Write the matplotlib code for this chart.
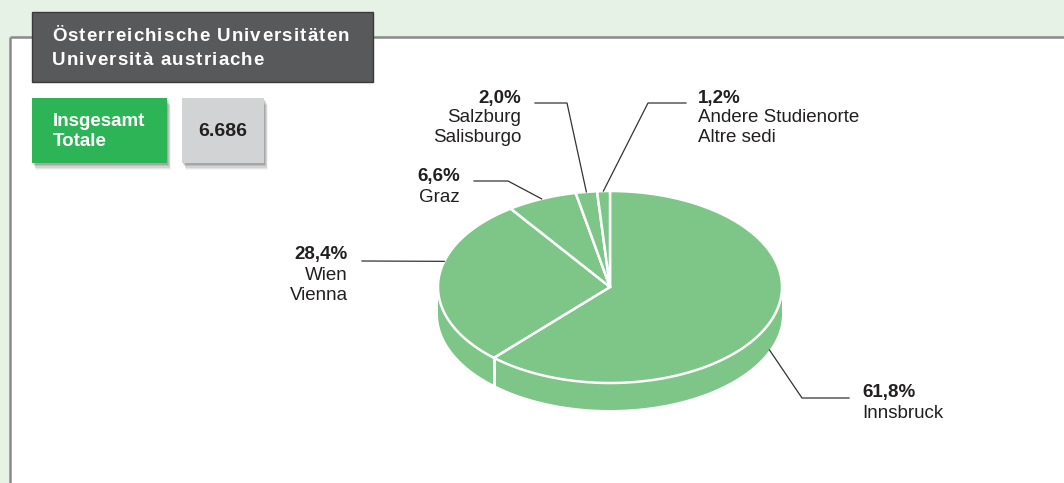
import numpy as np
import matplotlib
matplotlib.use("Agg")
import matplotlib.pyplot as plt
from matplotlib.patches import Rectangle, Polygon
from matplotlib.font_manager import FontProperties

# ---------------- data ----------------
categories_de = ["Innsbruck", "Wien", "Graz", "Salzburg", "Andere Studienorte"]
categories_it = ["", "Vienna", "", "Salisburgo", "Altre sedi"]
shares = [61.8, 28.4, 6.6, 2.0, 1.2]
total_label = "6.686"
title_lines = ["Österreichische Universitäten", "Università austriache"]
total_text = ["Insgesamt", "Totale"]

# ---------------- style ----------------
W, H = 1064, 483
BG = "#E7F2E6"
PIE = "#7DC688"
DARK = "#231F20"
plt.rcParams["font.family"] = ["Liberation Sans", "DejaVu Sans"]

fig = plt.figure(figsize=(W / 100, H / 100), dpi=100)
fig.patch.set_facecolor(BG)
ax = fig.add_axes([0, 0, 1, 1])
ax.set_xlim(0, W)
ax.set_ylim(H, 0)
ax.axis("off")

# white panel with grey frame (top + left)
ax.add_patch(Rectangle((10, 37), W, H, facecolor="white", edgecolor="none", zorder=0))
ax.plot([10, W], [37, 37], color="#8A8A8A", lw=1.8, zorder=1, solid_capstyle="butt")
ax.plot([10, 10], [37, H], color="#8A8A8A", lw=1.8, zorder=1, solid_capstyle="butt")

# title box
ax.add_patch(Rectangle((32, 12), 341, 70, facecolor="#58595B", edgecolor="#3A3A3C", lw=1, zorder=2))

renderer = fig.canvas.get_renderer()

def spaced_text(x, y, s, size, spacing, **kw):
    fp = FontProperties(family=["Liberation Sans", "DejaVu Sans"], weight="bold", size=size)
    for i, ch in enumerate(s):
        w = renderer.get_text_width_height_descent(s[:i], fp, ismath=False)[0] if i else 0
        ax.text(x + w + i * spacing, y, ch, fontproperties=fp, va="baseline", ha="left", **kw)

for i, t in enumerate(title_lines):
    spaced_text(52, 41 + i * 24, t, 13.5, 1.15, color="white", zorder=3)

# boxes with soft shadow
def shadow_box(x, y, w, h, fc):
    for k, a in enumerate([0.04, 0.06, 0.08, 0.10, 0.12]):
        off = 7 - k * 1.2
        ax.add_patch(Rectangle((x + off * 0.6, y + off), w, h, facecolor="black",
                               alpha=a, edgecolor="none", zorder=2))
    ax.add_patch(Rectangle((x, y), w, h, facecolor=fc, edgecolor="none", zorder=3))

shadow_box(32, 98, 135, 65, "#2DB456")
shadow_box(182, 98, 82, 65, "#D1D3D4")
ax.text(53, 122, total_text[0], color="white", fontsize=13.5, fontweight="bold", va="center", zorder=4)
ax.text(53, 141, total_text[1], color="white", fontsize=13.5, fontweight="bold", va="center", zorder=4)
ax.text(223, 131, total_label, color=DARK, fontsize=14, fontweight="bold",
        va="center", ha="center", zorder=4)

# ---------------- 3D pie ----------------
cx, cy, rx, ry, depth = 610, 287, 172, 96, 27

def pt(theta_deg, dy=0):
    t = np.radians(theta_deg)
    return cx + rx * np.cos(t), cy - ry * np.sin(t) + dy

fr = np.array(shares) / sum(shares)
starts = 90 - 360 * np.concatenate([[0], np.cumsum(fr)[:-1]])
ends = starts - 360 * fr

# sides (front, visible half)
for s, e in zip(starts, ends):
    th = np.linspace(e, s, 400)
    vis = np.sin(np.radians(th)) <= 1e-9
    if vis.sum() < 2:
        continue
    thv = th[vis]
    top = [pt(t) for t in thv]
    bot = [pt(t, depth) for t in thv[::-1]]
    ax.add_patch(Polygon(top + bot, closed=True, facecolor=PIE, edgecolor="none", zorder=5))
    for b in (s, e):
        if np.sin(np.radians(b)) < -0.05:
            x0, y0 = pt(b)
            ax.plot([x0, x0], [y0, y0 + depth], color="white", lw=2, zorder=6)

# tops
for s, e in zip(starts, ends):
    th = np.linspace(s, e, 300)
    verts = [(cx, cy)] + [pt(t) for t in th]
    ax.add_patch(Polygon(verts, closed=True, facecolor=PIE, edgecolor="white",
                         lw=1.8, joinstyle="miter", zorder=7))

# ---------------- labels with leader lines ----------------
LW = 0.9
LC = "#333333"
FS = 13.5

def pct(v):
    return f"{v:.1f}".replace(".", ",") + "%"

labels = [
    dict(path=[pt(-22, depth), (802, 398), (849, 398)], tx=862, ty=393, ha="left"),
    dict(path=[pt(164.5), (362, 261)], tx=348, ty=255, ha="right"),
    dict(path=[pt(113.4), (508, 181), (474, 181)], tx=460, ty=177, ha="right"),
    dict(path=[pt(97.9), (567, 103), (535, 103)], tx=521, ty=98, ha="right"),
    dict(path=[pt(92.2), (648, 103), (686, 103)], tx=698, ty=98, ha="left"),
]

for i, lab in enumerate(labels):
    xs, ys = zip(*lab["path"])
    ax.plot(xs, ys, color=LC, lw=LW, zorder=8)
    lines = [categories_de[i]] + ([categories_it[i]] if categories_it[i] else [])
    ax.text(lab["tx"], lab["ty"], pct(shares[i]), fontsize=FS, fontweight="bold",
            color=DARK, ha=lab["ha"], va="center", zorder=9)
    for j, ln in enumerate(lines):
        ax.text(lab["tx"], lab["ty"] + 20 * (j + 1), ln, fontsize=FS, color=DARK,
                ha=lab["ha"], va="center", zorder=9)

fig.savefig("out.png", dpi=100, facecolor=BG)
